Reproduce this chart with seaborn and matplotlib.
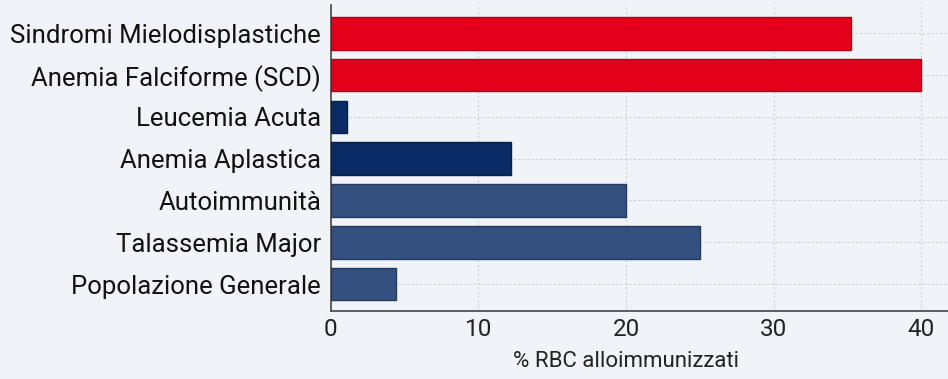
"""
Alloimmunizzazione RBC per condizione clinica: barre orizzontali.
"""

import matplotlib
matplotlib.use("Agg")
import matplotlib.pyplot as plt
import pandas as pd
import seaborn as sns

categories = [
    "Sindromi Mielodisplastiche",
    "Anemia Falciforme (SCD)",
    "Leucemia Acuta",
    "Anemia Aplastica",
    "Autoimmunità",
    "Talassemia Major",
    "Popolazione Generale",
]
values = [35.2, 40.0, 1.1, 12.2, 20.0, 25.0, 4.4]
groups = ["alto", "alto", "onco", "onco", "altro", "altro", "altro"]
x_ticks = [0, 10, 20, 30, 40]
x_label = "% RBC alloimmunizzati"

COLORS = {"alto": "#E3001B", "onco": "#0B2B66", "altro": "#34507E"}
EDGES = {"alto": "#B3001A", "onco": "#071F4D", "altro": "#243A60"}
BG = "#F0F4F8"

df = pd.DataFrame({"cat": categories, "val": values, "grp": groups})

sns.set_theme(style="white")
plt.rcParams["font.family"] = ["Roboto", "DejaVu Sans"]

fig = plt.figure(figsize=(9.48, 3.79), dpi=100, facecolor=BG)
ax = fig.add_axes([0.349, 0.179, 0.651, 0.808])
ax.set_facecolor(BG)

sns.barplot(
    data=df, x="val", y="cat", hue="grp", palette=COLORS, saturation=1,
    dodge=False, width=0.78, legend=False, ax=ax, zorder=3,
)
# edge colour per bar, matched by its row
for patch in ax.patches:
    idx = int(round(patch.get_y() + patch.get_height() / 2))
    if 0 <= idx < len(groups):
        patch.set_edgecolor(EDGES[groups[idx]])
        patch.set_linewidth(1.0)

ax.set_xlim(0, 41.8)
ax.set_ylim(6.65, -0.68)
ax.set_xticks(x_ticks)
ax.set_xlabel(x_label, fontsize=16, color="#222222")
ax.xaxis.set_label_coords(20 / 41.8, -0.13)
ax.set_ylabel("")

ax.grid(True, axis="both", linestyle=(0, (2, 2)), color="#C9D0D8", linewidth=0.8, zorder=0)
ax.set_axisbelow(True)

for s in ["top", "right"]:
    ax.spines[s].set_visible(False)
for s in ["left", "bottom"]:
    ax.spines[s].set_color("#444444")
    ax.spines[s].set_linewidth(1.2)

ax.tick_params(axis="x", direction="in", length=5, width=1, colors="#444444",
               labelsize=17.5, labelcolor="#222222", pad=5)
ax.tick_params(axis="y", direction="in", length=4, width=1, colors="#444444",
               labelsize=18.5, labelcolor="#111111", pad=7)

fig.savefig("out.png", dpi=100, facecolor=BG)
